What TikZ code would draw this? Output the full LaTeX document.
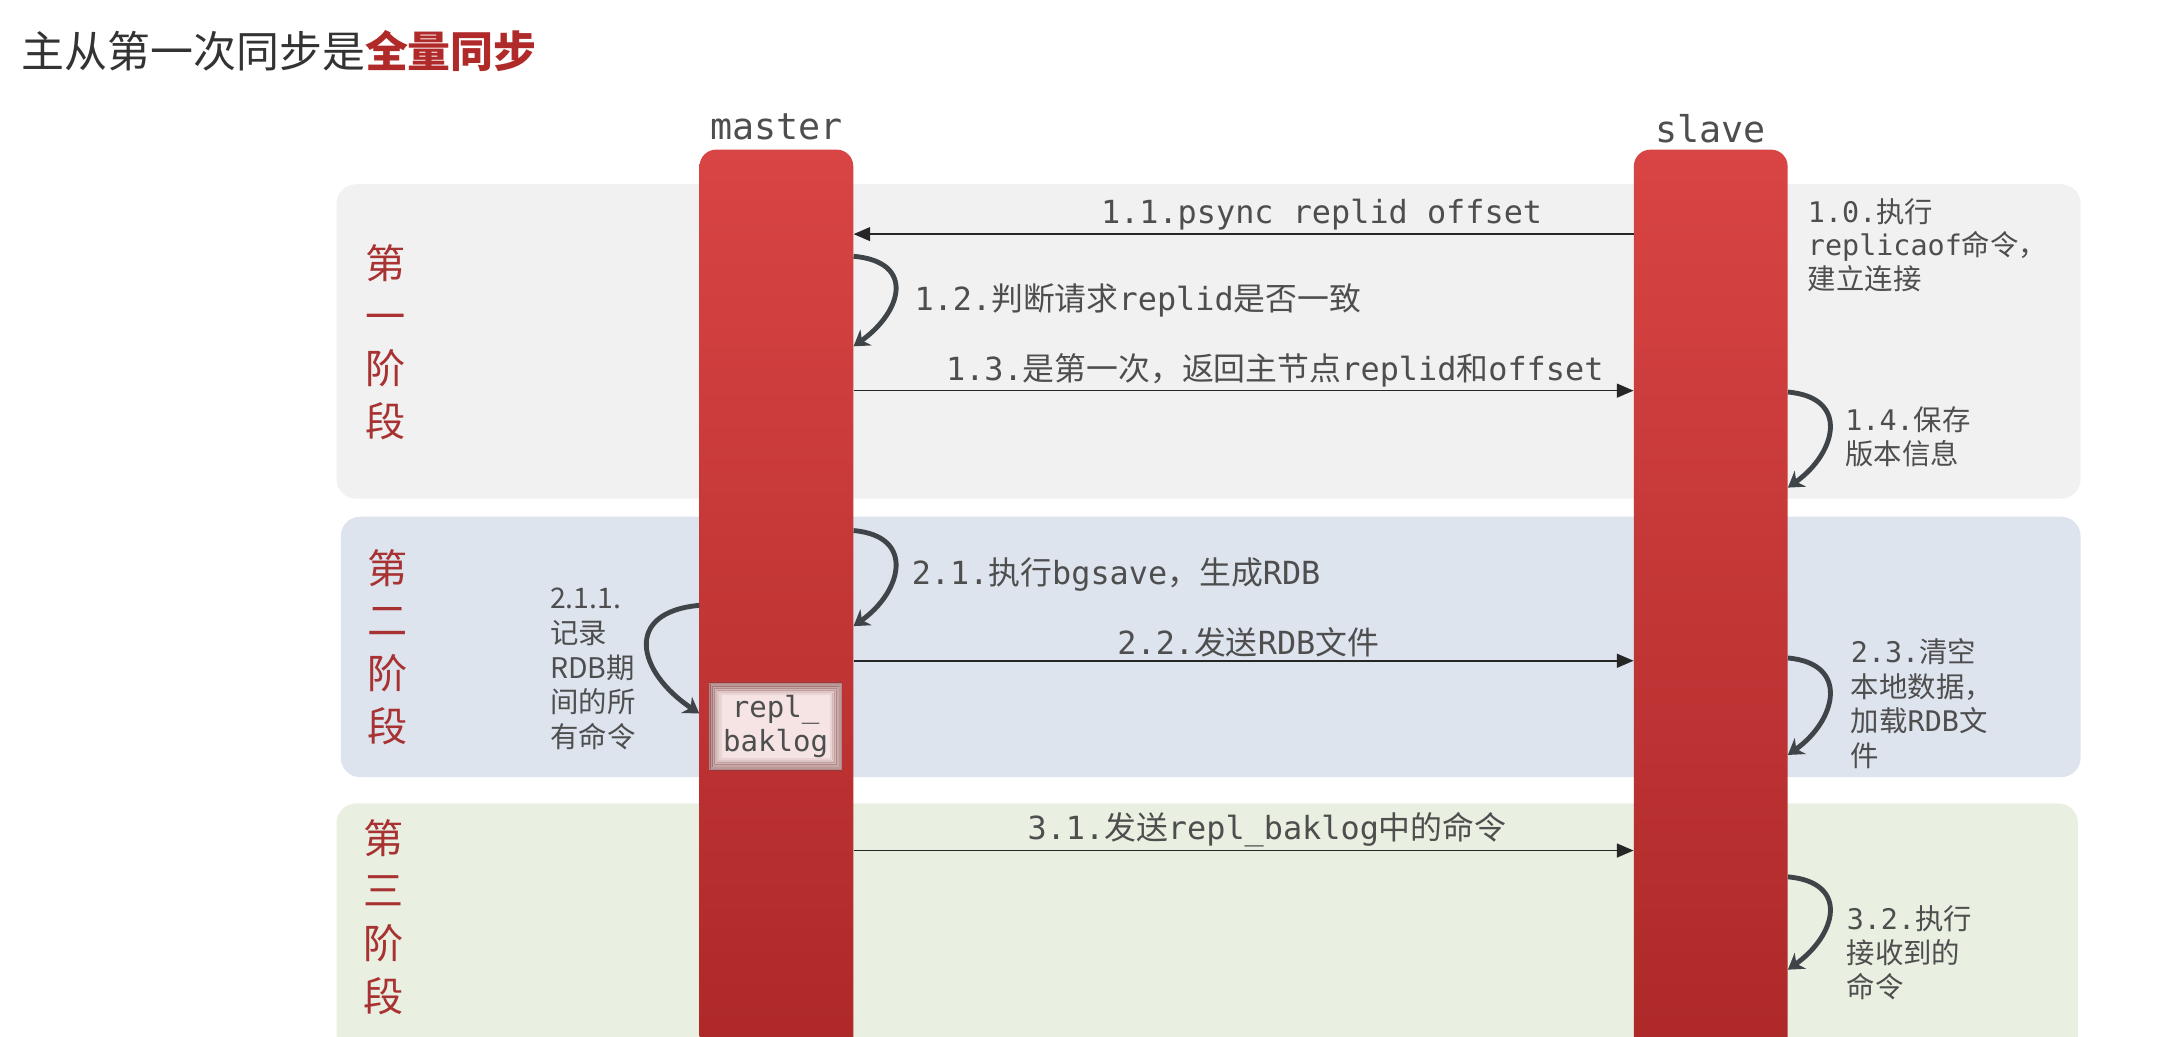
\documentclass[tikz,border=0pt]{standalone}
\usepackage{fontspec}
\setmonofont{DejaVu Sans Mono}
\newfontfamily\cjk{Noto Sans CJK SC}
\usetikzlibrary{arrows.meta, positioning}

\definecolor{phaseOne}{HTML}{F1F1F1}
\definecolor{phaseTwo}{HTML}{DDE4EE}
\definecolor{phaseThree}{HTML}{E9EFE1}
\definecolor{barTop}{HTML}{D94444}
\definecolor{barBot}{HTML}{AD2828}
\definecolor{stageRed}{HTML}{A83232}
\definecolor{titleRed}{HTML}{B02A2A}
\definecolor{txtGray}{HTML}{4E4E4E}
\definecolor{loopGray}{HTML}{3F4448}
\definecolor{logFill}{HTML}{F6E4E4}
\definecolor{logEdge}{HTML}{7A4040}

\newcommand\zh[1]{{\cjk #1}}

\begin{document}
\begin{tikzpicture}[x=1pt, y=-1pt,
        panel/.style={rounded corners=14pt},
        bar/.style={rectangle, rounded corners=12pt, minimum width=111pt, minimum height=660pt, inner sep=0pt, top color=barTop, bottom color=barBot},
        role/.style={font=\fontsize{26.5}{30}\selectfont\ttfamily, text=txtGray},
        stage/.style={font=\fontsize{29}{38}\selectfont\cjk, text=stageRed, align=center},
        lbl/.style={font=\fontsize{23}{27}\selectfont\ttfamily, text=txtGray, inner sep=2pt},
        side/.style={font=\fontsize{20.5}{24.5}\selectfont\ttfamily, text=txtGray, align=left, anchor=west, inner sep=0pt},
        msg/.style={line width=1.1pt, draw=black!85, -{Triangle[length=12pt, width=10pt]}},
        selfloop/.style={line width=3.5pt, draw=loopGray, -{Stealth[length=11pt, width=14pt]}},
        logbox/.style={rectangle, minimum width=96pt, minimum height=63pt, inner sep=0pt, fill=logFill, align=center, font=\fontsize{21}{25}\selectfont\ttfamily, text=txtGray,
            path picture={\foreach \i in {0,...,5}
                \draw[logEdge, line width=2pt, opacity=0.55-0.09*\i] ([shift={(\i*1.6pt,-\i*1.6pt)}]path picture bounding box.north west) rectangle ([shift={(-\i*1.6pt,\i*1.6pt)}]path picture bounding box.south east);}}
    ]
        \useasboundingbox (0,0) rectangle (1568,748);

        % Title
        \node[anchor=west, font=\fontsize{31}{36}\selectfont\cjk, text=black!80] (title) at (12,37) {主从第一次同步是\textcolor{titleRed}{\bfseries 全量同步}};

        % Phase panels
        \fill[panel, phaseOne] (243,133) rectangle (1502,360);
        \fill[panel, phaseTwo] (246,373) rectangle (1502,561);
        \fill[panel, phaseThree] (243,580) rectangle (1500,790);

        \node[stage] (stage1) at (278,247) {第\\一\\阶\\段};
        \node[stage] (stage2) at (280,467) {第\\二\\阶\\段};
        \node[stage] (stage3) at (277,662) {第\\三\\阶\\段};

        % Lifelines
        \node[bar] (master) at (560.5,438) {};
        \node[bar] (slave) at (1235,438) {};
        \node[role, above=3pt of master] (masterlbl) {master};
        \node[role, above=1pt of slave] (slavelbl) {slave};

        \node[logbox] (baklog) at (560,524.5) {repl\_\\baklog};

        % Phase 1
        \draw[msg] (slave.west |- 0,169) -- node[lbl, above, pos=0.4] {1.1.psync replid offset} (master.east |- 0,169);
        \draw[selfloop] (master.east |- 0,185) .. controls +(45,4) and +(35,-25) .. (master.east |- 0,250);
        \node[lbl, anchor=west] (l12) at (658,217) {1.2.\zh{判断请求}replid\zh{是否一致}};
        \draw[msg] (master.east |- 0,282) -- node[lbl, above, pos=0.54] {1.3.\zh{是第一次，返回主节点}replid\zh{和}offset} (slave.west |- 0,282);
        \node[side] (s10) at (1305,177) {1.0.\zh{执行}\\replicaof\zh{命令，}\\\zh{建立连接}};
        \draw[selfloop] (slave.east |- 0,283) .. controls +(45,4) and +(35,-25) .. (slave.east |- 0,352);
        \node[side] (s14) at (1332,315) {1.4.\zh{保存}\\\zh{版本信息}};

        % Phase 2
        \draw[selfloop] (master.east |- 0,383) .. controls +(45,4) and +(35,-25) .. (master.east |- 0,452);
        \node[lbl, anchor=west] (l21) at (656,415) {2.1.\zh{执行}bgsave\zh{，生成}RDB};
        \draw[selfloop] (master.west |- 0,437) .. controls +(-55,5) and +(-45,-30) .. (master.west |- 0,515);
        \node[side, font=\fontsize{20.5}{25}\selectfont\cjk] (l211) at (397,483) {2.1.1.\\记录\\RDB期\\间的所\\有命令};
        \draw[msg] (master.east |- 0,477) -- node[lbl, above, pos=0.506] {2.2.\zh{发送}RDB\zh{文件}} (slave.west |- 0,477);
        \draw[selfloop] (slave.east |- 0,475) .. controls +(45,4) and +(35,-25) .. (slave.east |- 0,545);
        \node[side, font=\fontsize{20.5}{25}\selectfont\ttfamily] (s23) at (1336,508) {2.3.\zh{清空}\\\zh{本地数据，}\\\zh{加载}RDB\zh{文}\\\zh{件}};

        % Phase 3
        \draw[msg] (master.east |- 0,614) -- node[lbl, above, pos=0.53] {3.1.\zh{发送}repl\_baklog\zh{中的命令}} (slave.west |- 0,614);
        \draw[selfloop] (slave.east |- 0,633) .. controls +(45,4) and +(35,-25) .. (slave.east |- 0,700);
        \node[side] (s32) at (1333,688) {3.2.\zh{执行}\\\zh{接收到的}\\\zh{命令}};
\end{tikzpicture}
\end{document}
